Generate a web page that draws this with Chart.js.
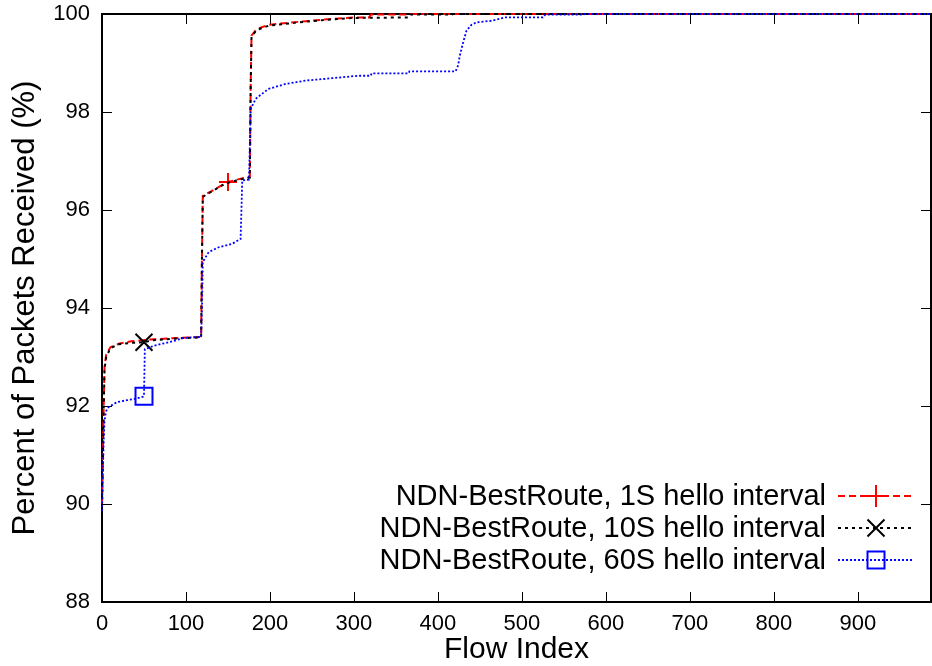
<!DOCTYPE html>
<html>
<head>
<meta charset="utf-8">
<script src="https://cdn.jsdelivr.net/npm/chart.js@4.4.1/dist/chart.umd.min.js"></script>
<style>
  body { margin: 0; background: #fff; }
</style>
</head>
<body>
<canvas id="chart" width="932" height="666"></canvas>
<script>
// values
const seriesNames = [
  "NDN-BestRoute, 1S hello interval",
  "NDN-BestRoute, 10S hello interval",
  "NDN-BestRoute, 60S hello interval"
];

const flow1s = [0, 1, 2, 3, 5, 10, 20, 35, 60, 90, 118, 119, 120, 131, 147, 150, 163, 176, 177, 178, 184, 198, 234, 274, 300, 318, 320, 365, 366, 987];
const pct1s  = [90.0, 91.0, 92.0, 92.8, 93.05, 93.2, 93.27, 93.32, 93.36, 93.39, 93.41, 95.0, 96.29, 96.39, 96.55, 96.57, 96.63, 96.68, 98.5, 99.56, 99.69, 99.78, 99.84, 99.9, 99.93, 99.93, 99.99, 99.99, 100, 100];

const flow10s = [0, 1, 2, 3, 5, 10, 20, 35, 50, 60, 90, 118, 119, 120, 131, 147, 163, 176, 177, 178, 184, 198, 234, 274, 300, 366, 368, 417, 418, 987];
const pct10s  = [89.95, 90.9, 91.9, 92.75, 93.0, 93.18, 93.26, 93.29, 93.3, 93.34, 93.38, 93.4, 95.0, 96.27, 96.38, 96.54, 96.62, 96.66, 98.5, 99.54, 99.67, 99.76, 99.83, 99.89, 99.92, 99.93, 99.99, 99.99, 100, 100];

const flow60s = [0, 1, 2, 3, 5, 8, 18, 30, 38, 49, 50, 51, 62, 86, 97, 118, 119, 120, 127, 139, 155, 165, 166, 167, 175, 176, 177, 183, 198, 218, 242, 274, 305, 320, 321, 365, 366, 421, 424, 426, 430, 434, 440, 446, 463, 475, 480, 525, 528, 572, 575, 987];
const pct60s  = [89.85, 90.6, 91.3, 91.7, 91.9, 91.98, 92.08, 92.12, 92.14, 92.19, 92.2, 93.16, 93.23, 93.33, 93.39, 93.41, 94.0, 94.94, 95.14, 95.24, 95.31, 95.41, 96.0, 96.6, 96.62, 97.3, 98.06, 98.27, 98.47, 98.57, 98.64, 98.69, 98.74, 98.74, 98.79, 98.79, 98.83, 98.83, 98.95, 99.15, 99.42, 99.66, 99.78, 99.83, 99.86, 99.91, 99.93, 99.93, 99.99, 99.99, 100, 100];

// flow index where gnuplot put its single point marker
const markerAt = [150, 50, 50];

const xTicks = [0, 100, 200, 300, 400, 500, 600, 700, 800, 900];
const yTicks = [88, 90, 92, 94, 96, 98, 100];

const FONT = "'Liberation Sans', Arial, Helvetica, sans-serif";

function points(xs, ys) {
  return xs.map((x, i) => ({ x: x, y: ys[i] }));
}

function markerRadius(k, r) {
  return ctx => (ctx.raw && ctx.raw.x === markerAt[k] ? r : 0);
}

// border with inward ticks on all four sides, like gnuplot
const framePlugin = {
  id: "frame",
  beforeDatasetsDraw(chart) {
    const { ctx, chartArea: a, scales } = chart;
    ctx.save();
    ctx.strokeStyle = "#000";
    ctx.lineWidth = 1;
    ctx.beginPath();
    xTicks.forEach(v => {
      const px = Math.round(scales.x.getPixelForValue(v)) + 0.5;
      ctx.moveTo(px, a.bottom); ctx.lineTo(px, a.bottom - 10);
      ctx.moveTo(px, a.top); ctx.lineTo(px, a.top + 10);
    });
    yTicks.forEach(v => {
      const py = Math.round(scales.y.getPixelForValue(v)) + 0.5;
      ctx.moveTo(a.left, py); ctx.lineTo(a.left + 10, py);
      ctx.moveTo(a.right, py); ctx.lineTo(a.right - 10, py);
    });
    ctx.stroke();
    ctx.lineWidth = 2;
    ctx.strokeRect(a.left, a.top, a.right - a.left, a.bottom - a.top);
    ctx.restore();
  }
};

// legend drawn gnuplot style: text, then line sample with marker
const keyPlugin = {
  id: "key",
  afterDraw(chart) {
    const ctx = chart.ctx;
    const rows = [496, 528, 560];
    const textRight = 826, x0 = 838, x1 = 913, xm = 876;
    ctx.save();
    chart.data.datasets.forEach((ds, i) => {
      const y = rows[i];
      ctx.font = "29px " + FONT;
      ctx.fillStyle = "#000";
      ctx.textAlign = "right";
      ctx.textBaseline = "middle";
      ctx.fillText(ds.label, textRight, y + 1);

      ctx.strokeStyle = ds.borderColor;
      ctx.lineWidth = ds.borderWidth;
      ctx.setLineDash(ds.borderDash);
      ctx.beginPath();
      ctx.moveTo(x0, y); ctx.lineTo(x1, y);
      ctx.stroke();

      ctx.setLineDash([]);
      ctx.lineWidth = 2;
      ctx.beginPath();
      if (ds.pointStyle === "cross") {
        ctx.moveTo(xm - 11, y); ctx.lineTo(xm + 11, y);
        ctx.moveTo(xm, y - 11); ctx.lineTo(xm, y + 11);
      } else if (ds.pointStyle === "crossRot") {
        ctx.moveTo(xm - 8.5, y - 8.5); ctx.lineTo(xm + 8.5, y + 8.5);
        ctx.moveTo(xm - 8.5, y + 8.5); ctx.lineTo(xm + 8.5, y - 8.5);
      } else {
        ctx.rect(xm - 8.5, y - 8.5, 17, 17);
      }
      ctx.stroke();
    });
    ctx.restore();
  }
};

new Chart(document.getElementById("chart"), {
  type: "scatter",
  data: {
    datasets: [
      {
        label: seriesNames[0],
        data: points(flow1s, pct1s),
        showLine: true,
        borderColor: "#ff0000",
        borderWidth: 2,
        borderDash: [7, 4],
        pointStyle: "cross",
        pointRadius: markerRadius(0, 9),
        pointBorderWidth: 2,
        pointBorderColor: "#ff0000",
        pointBackgroundColor: "transparent",
        tension: 0,
        clip: 6,
        order: 3
      },
      {
        label: seriesNames[1],
        data: points(flow10s, pct10s),
        showLine: true,
        borderColor: "#000000",
        borderWidth: 2,
        borderDash: [3, 4],
        pointStyle: "crossRot",
        pointRadius: markerRadius(1, 12),
        pointBorderWidth: 2,
        pointBorderColor: "#000000",
        pointBackgroundColor: "transparent",
        tension: 0,
        clip: 6,
        order: 2
      },
      {
        label: seriesNames[2],
        data: points(flow60s, pct60s),
        showLine: true,
        borderColor: "#0000ff",
        borderWidth: 1.8,
        borderDash: [2, 2],
        pointStyle: "rect",
        pointRadius: markerRadius(2, 12),
        pointBorderWidth: 2,
        pointBorderColor: "#0000ff",
        pointBackgroundColor: "transparent",
        tension: 0,
        clip: 6,
        order: 1
      }
    ]
  },
  options: {
    responsive: false,
    animation: false,
    events: [],
    layout: { padding: { top: 14, right: 1, left: 0, bottom: 0 } },
    plugins: {
      legend: { display: false },
      tooltip: { enabled: false }
    },
    scales: {
      x: {
        type: "linear",
        min: 0,
        max: 987,
        afterBuildTicks: s => { s.ticks = xTicks.map(v => ({ value: v })); },
        afterFit: s => { s.height = 64; s.paddingLeft = 0; s.paddingRight = 0; },
        ticks: {
          color: "#000",
          padding: 9,
          maxRotation: 0,
          autoSkip: false,
          font: { family: FONT, size: 22 }
        },
        grid: { display: false, drawTicks: false },
        border: { display: false },
        title: {
          display: true,
          text: "Flow Index",
          color: "#000",
          font: { family: FONT, size: 30, lineHeight: 1 },
          padding: { top: 0, bottom: 1 }
        }
      },
      y: {
        min: 88,
        max: 100,
        afterBuildTicks: s => { s.ticks = yTicks.map(v => ({ value: v })); },
        afterFit: s => { s.width = 102; s.paddingTop = 0; s.paddingBottom = 0; },
        ticks: {
          color: "#000",
          padding: 12,
          autoSkip: false,
          font: { family: FONT, size: 22 }
        },
        grid: { display: false, drawTicks: false },
        border: { display: false },
        title: {
          display: true,
          text: "Percent of Packets Received (%)",
          color: "#000",
          font: { family: FONT, size: 31, lineHeight: 1 },
          padding: { top: 10, bottom: 0 }
        }
      }
    }
  },
  plugins: [framePlugin, keyPlugin]
});
</script>
</body>
</html>
